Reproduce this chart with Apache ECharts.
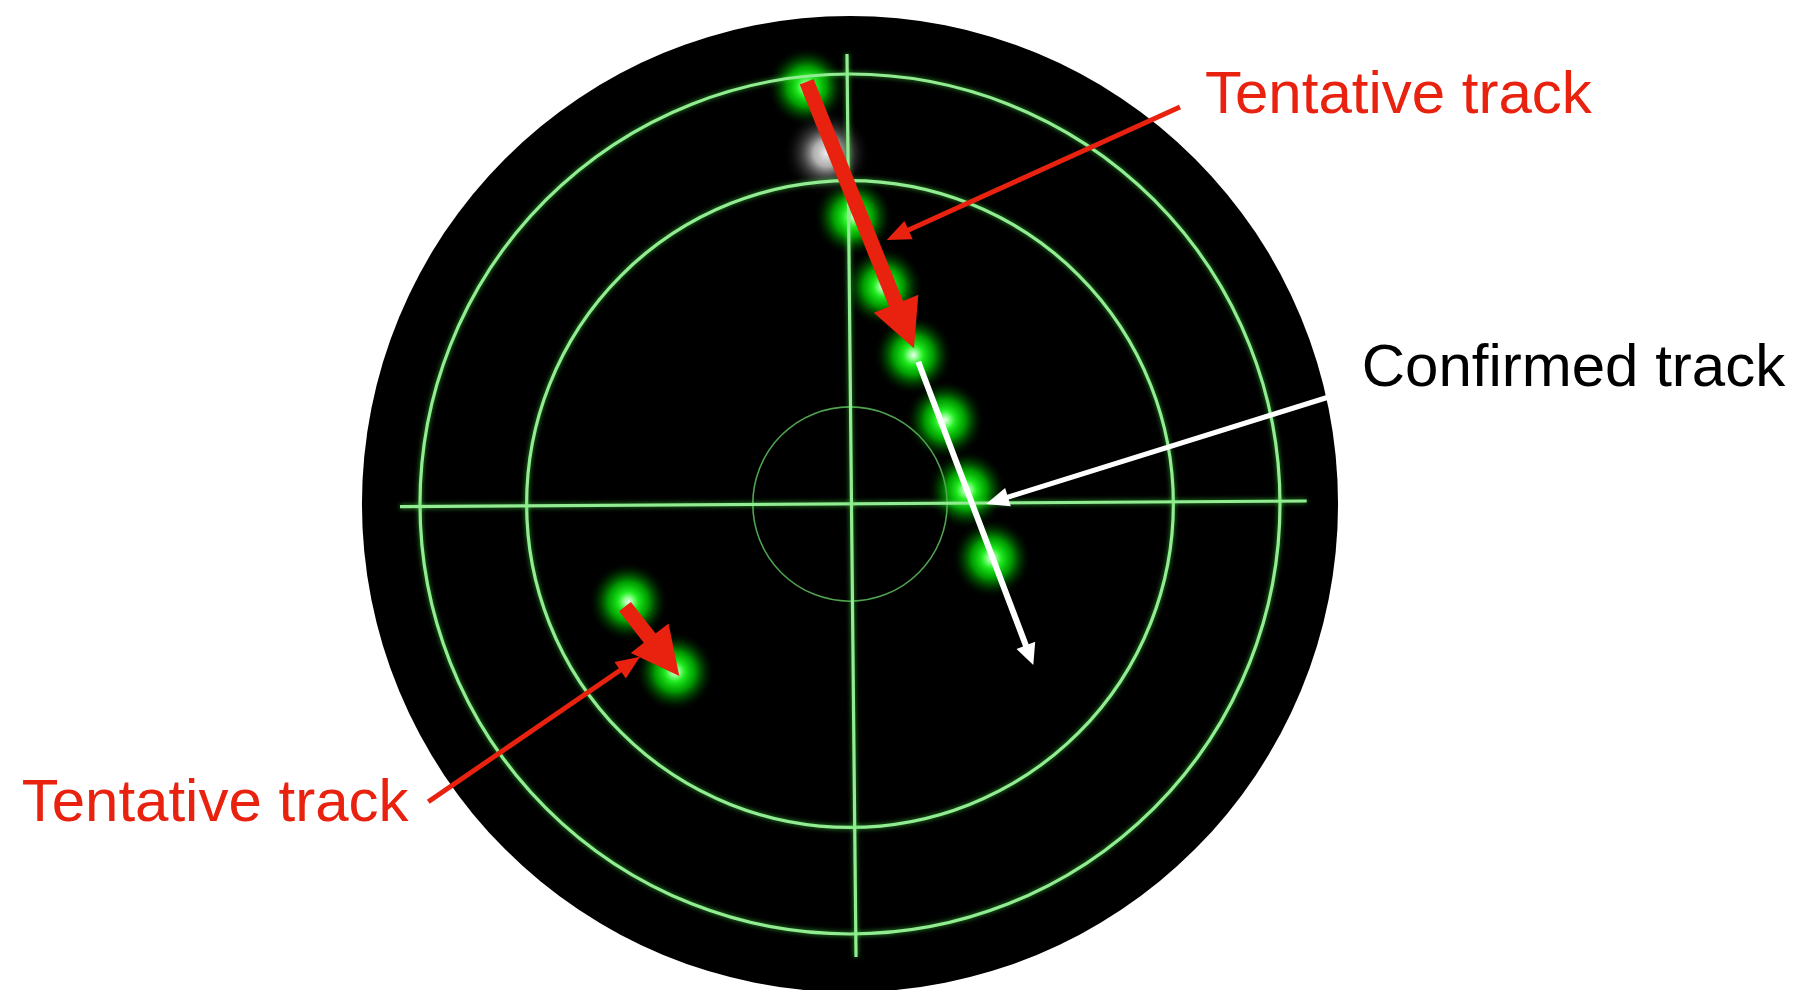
<!DOCTYPE html>
<html><head><meta charset="utf-8">
<script src="https://cdn.jsdelivr.net/npm/echarts@6/dist/echarts.min.js"></script>
<style>html,body{margin:0;padding:0;background:#fff}#c{width:1800px;height:990px}</style>
</head><body><div id="c"></div><script>
// Radar units: origin = scope centre, y up, outer range ring = 100
const scopeRadius = [113.5];
const rangeRings = [100, 75.2];
const innerRing = [22.6];
const crossLines = [[-104.65, -0.63, 106.21, 0.70], [-0.70, 104.65, 1.40, -105.35]];
const greenBlips = [[-10.07, 97.05], [0.77, 66.81], [7.74, 50.53], [14.72, 34.65], [22.09, 19.53], [27.14, 3.26], [32.95, -12.63], [-51.56, -22.72], [-40.70, -39.0]];
const whiteBlips = [[-5.42, 81.56]];
const tentativeTracks = [[-10.07, 98.21, 14.88, 36.21], [-52.33, -23.88, -39.70, -40.0]];
const confirmedTracks = [[15.88, 33.09, 42.63, -37.44]];
const redPointers = [[76.74, 92.33, 8.53, 61.40], [-98.07, -69.23, -48.84, -35.51]];
const whitePointers = [[112.09, 25.12, 31.63, 0]];
const redLabelText = ['Tentative track', 'Tentative track'];
const redLabelPos = [[82.56, 94.88], [-192.63, -69.93]];
const blackLabelText = ['Confirmed track'];
const blackLabelPos = [[119.0, 31.40]];

const RED = '#E8220F';
const chart = echarts.init(document.getElementById('c'), null, {renderer: 'canvas'});

function circleSeries(data, style, z) {
  return {
    type: 'custom', z: z, silent: true,
    data: data.map(r => [0, 0, r]),
    encode: {x: 0, y: 1},
    renderItem: function (params, api) {
      const c = api.coord([api.value(0), api.value(1)]);
      const r = api.size([api.value(2), 0])[0];
      return {type: 'circle', shape: {cx: c[0], cy: c[1], r: r}, style: style};
    }
  };
}
function segSeries(data, style, z) {
  return {
    type: 'custom', z: z, silent: true, data: data, encode: {x: [0, 2], y: [1, 3]},
    renderItem: function (params, api) {
      const a = api.coord([api.value(0), api.value(1)]);
      const b = api.coord([api.value(2), api.value(3)]);
      return {type: 'line', shape: {x1: a[0], y1: a[1], x2: b[0], y2: b[1]}, style: style};
    }
  };
}
function arrowSeries(data, shaftW, headW, headL, color, z) {
  return {
    type: 'custom', z: z, silent: true, data: data, encode: {x: [0, 2], y: [1, 3]},
    renderItem: function (params, api) {
      const a = api.coord([api.value(0), api.value(1)]);
      const b = api.coord([api.value(2), api.value(3)]);
      const dx = b[0] - a[0], dy = b[1] - a[1];
      const L = Math.hypot(dx, dy);
      const ux = dx / L, uy = dy / L, nx = -uy, ny = ux;
      const sx = b[0] - ux * headL, sy = b[1] - uy * headL;
      const w = shaftW / 2, h = headW / 2;
      const pts = [
        [a[0] + nx * w, a[1] + ny * w], [sx + nx * w, sy + ny * w], [sx + nx * h, sy + ny * h],
        [b[0], b[1]],
        [sx - nx * h, sy - ny * h], [sx - nx * w, sy - ny * w], [a[0] - nx * w, a[1] - ny * w]
      ];
      return {type: 'polygon', shape: {points: pts}, style: {fill: color}};
    }
  };
}
function glowSeries(data, stops, radius, z) {
  return {
    type: 'custom', z: z, silent: true, data: data, encode: {x: 0, y: 1},
    renderItem: function (params, api) {
      const c = api.coord([api.value(0), api.value(1)]);
      return {type: 'circle', shape: {cx: c[0], cy: c[1], r: radius},
        style: {fill: {type: 'radial', x: 0.5, y: 0.5, r: 0.5, colorStops: stops}}};
    }
  };
}
function labelSeries(pos, texts, color, z) {
  return {
    type: 'scatter', z: z, silent: true, symbolSize: 0,
    itemStyle: {color: color, opacity: 1},
    data: pos.map((p, i) => ({value: p, name: texts[i]})),
    label: {show: true, position: 'right', distance: 0, formatter: '{b}', opacity: 1,
      fontSize: 60, color: color, fontFamily: 'Liberation Sans, Arial, sans-serif'}
  };
}

const greenStops = [
  {offset: 0, color: 'rgba(240,255,240,1)'},
  {offset: 0.1, color: 'rgba(150,255,150,1)'},
  {offset: 0.25, color: 'rgba(30,235,30,1)'},
  {offset: 0.5, color: 'rgba(0,195,0,0.8)'},
  {offset: 0.75, color: 'rgba(0,120,0,0.35)'},
  {offset: 1, color: 'rgba(0,0,0,0)'}
];
const whiteStops = [
  {offset: 0, color: 'rgba(238,238,238,1)'},
  {offset: 0.3, color: 'rgba(205,205,205,0.85)'},
  {offset: 0.55, color: 'rgba(140,140,140,0.45)'},
  {offset: 0.8, color: 'rgba(70,70,70,0.15)'},
  {offset: 1, color: 'rgba(0,0,0,0)'}
];
const ringStyle = {fill: 'none', stroke: '#92ec92', lineWidth: 3.2, shadowBlur: 5, shadowColor: 'rgba(70,230,70,0.7)'};
const innerStyle = {fill: 'none', stroke: '#4fa24f', lineWidth: 1.6};
const lineStyle = {stroke: '#92ec92', lineWidth: 3.2, shadowBlur: 5, shadowColor: 'rgba(70,230,70,0.7)'};

chart.setOption({
  animation: false,
  backgroundColor: '#ffffff',
  grid: {left: 0, top: 0, width: 1800, height: 990, containLabel: false},
  xAxis: {type: 'value', min: -197.67, max: 220.93, show: false},
  yAxis: {type: 'value', min: -113.02, max: 117.21, show: false},
  series: [
    circleSeries(scopeRadius, {fill: '#000000'}, 1),
    glowSeries(greenBlips, greenStops, 40, 2),
    glowSeries(whiteBlips, whiteStops, 44, 2),
    circleSeries(rangeRings, ringStyle, 3),
    circleSeries(innerRing, innerStyle, 3),
    segSeries(crossLines, lineStyle, 3),
    arrowSeries(tentativeTracks, 15, 48, 48, RED, 5),
    arrowSeries(confirmedTracks, 6, 20, 21, '#ffffff', 5),
    arrowSeries(redPointers, 5, 20, 24, RED, 6),
    arrowSeries(whitePointers, 5, 19, 23, '#ffffff', 6),
    labelSeries(redLabelPos, redLabelText, RED, 7),
    labelSeries(blackLabelPos, blackLabelText, '#000000', 7)
  ]
});
</script></body></html>
